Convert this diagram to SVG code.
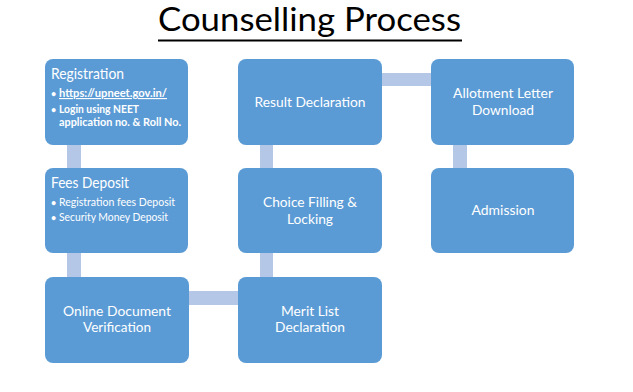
<svg xmlns="http://www.w3.org/2000/svg" width="633" height="392" viewBox="0 0 633 392">
<style>
.box{fill:#5B9BD5;}
.conn{fill:#B4C7E7;}
text{font-family:Lato,"Open Sans","Liberation Sans",sans-serif;fill:#FFFFFF;}
.c{text-anchor:middle;font-size:14px;}
.h{font-size:16px;}
.b{font-size:11.5px;}
.bb{font-size:11.5px;font-weight:bold;}
.dot{font-size:9px;font-weight:bold;}
.title{font-size:32px;fill:#000000;}
</style>
<rect width="633" height="392" fill="#FFFFFF"/>
<g id="title">
<text class="title" x="158" y="31" textLength="303" lengthAdjust="spacingAndGlyphs">Counselling Process</text>
<rect x="158" y="39.5" width="304" height="2" fill="#000000"/>
</g>
<g id="connectors">
<rect class="conn" x="67" y="145" width="14" height="23"/>
<rect class="conn" x="67" y="253" width="14" height="24"/>
<rect class="conn" x="189" y="291" width="49" height="14"/>
<rect class="conn" x="260" y="253" width="13" height="24"/>
<rect class="conn" x="260" y="145" width="13" height="23"/>
<rect class="conn" x="382" y="73" width="49" height="13"/>
<rect class="conn" x="453" y="145" width="14" height="23"/>
</g>
<g id="registration">
<rect class="box" x="45" y="59" width="143" height="86" rx="8"/>
<text class="h" x="51" y="79" textLength="73" lengthAdjust="spacingAndGlyphs">Registration</text>
<text class="dot" x="51" y="97">•</text>
<text class="bb" x="59" y="97" text-decoration="underline" textLength="108" lengthAdjust="spacingAndGlyphs">https://upneet.gov.in/</text>
<text class="dot" x="51" y="113">•</text>
<text class="bb" x="59" y="113" textLength="80" lengthAdjust="spacingAndGlyphs">Login using NEET</text>
<text class="bb" x="59" y="126" textLength="122" lengthAdjust="spacingAndGlyphs">application no. &amp; Roll No.</text>
</g>
<g id="fees">
<rect class="box" x="45" y="168" width="143" height="85" rx="8"/>
<text class="h" x="51" y="188" textLength="78" lengthAdjust="spacingAndGlyphs">Fees Deposit</text>
<text class="dot" x="51" y="206">•</text>
<text class="b" x="59" y="206" textLength="116" lengthAdjust="spacingAndGlyphs">Registration fees Deposit</text>
<text class="dot" x="51" y="221">•</text>
<text class="b" x="59" y="221" textLength="109" lengthAdjust="spacingAndGlyphs">Security Money Deposit</text>
</g>
<g id="online">
<rect class="box" x="45" y="277" width="144" height="86" rx="8"/>
<text class="c" x="117" y="316" textLength="108" lengthAdjust="spacingAndGlyphs">Online Document</text>
<text class="c" x="117" y="332" textLength="68" lengthAdjust="spacingAndGlyphs">Verification</text>
</g>
<g id="merit">
<rect class="box" x="238" y="277" width="144" height="86" rx="8"/>
<text class="c" x="310" y="316" textLength="58" lengthAdjust="spacingAndGlyphs">Merit List</text>
<text class="c" x="310" y="332" textLength="70" lengthAdjust="spacingAndGlyphs">Declaration</text>
</g>
<g id="choice">
<rect class="box" x="238" y="168" width="144" height="85" rx="8"/>
<text class="c" x="310" y="207" textLength="94" lengthAdjust="spacingAndGlyphs">Choice Filling &amp;</text>
<text class="c" x="310" y="224" textLength="46" lengthAdjust="spacingAndGlyphs">Locking</text>
</g>
<g id="result">
<rect class="box" x="238" y="59" width="144" height="86" rx="8"/>
<text class="c" x="310" y="107" textLength="111" lengthAdjust="spacingAndGlyphs">Result Declaration</text>
</g>
<g id="allotment">
<rect class="box" x="431" y="59" width="143" height="86" rx="8"/>
<text class="c" x="503" y="98" textLength="100" lengthAdjust="spacingAndGlyphs">Allotment Letter</text>
<text class="c" x="503" y="115" textLength="62" lengthAdjust="spacingAndGlyphs">Download</text>
</g>
<g id="admission">
<rect class="box" x="431" y="168" width="143" height="85" rx="8"/>
<text class="c" x="503" y="215" textLength="63" lengthAdjust="spacingAndGlyphs">Admission</text>
</g>
</svg>
